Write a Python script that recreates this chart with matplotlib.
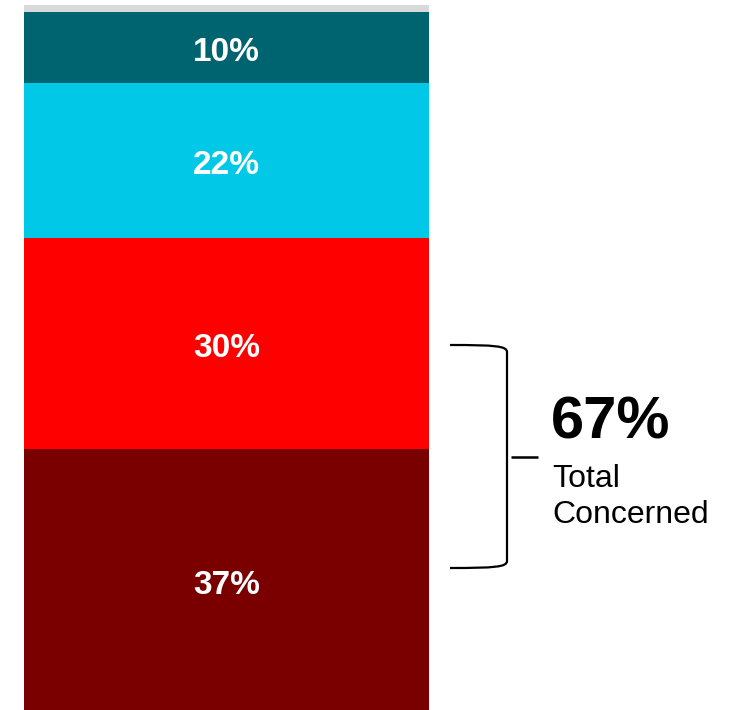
import matplotlib
matplotlib.use("Agg")
import matplotlib.pyplot as plt
from matplotlib.path import Path
from matplotlib.patches import PathPatch

categories = ["Very concerned", "Somewhat concerned", "Not very concerned", "Not at all concerned", "Unsure"]
values = [37, 30, 22, 10, 1]
colors = ["#7a0000", "#ff0000", "#00c8e6", "#006470", "#d9d9d9"]
labels = ["37%", "30%", "22%", "10%", ""]
total_value = "67%"
total_label = "Total\nConcerned"

W, H = 737, 710
fig = plt.figure(figsize=(W / 100, H / 100), dpi=100)
fig.patch.set_facecolor("white")

ax = fig.add_axes([24 / W, 0, 405 / W, 705 / H])
bottom = 0
for v, c, lab in zip(values, colors, labels):
    ax.bar(0, v, bottom=bottom, width=1.0, color=c, linewidth=0)
    if lab:
        ax.annotate(lab, xy=(0, bottom + v / 2), xytext=(0, -4), textcoords="offset points",
                    ha="center", va="center", color="white",
                    fontsize=24, fontweight="bold", family=["Liberation Sans", "DejaVu Sans"])
    bottom += v
ax.set_xlim(-0.5, 0.5)
ax.set_ylim(0, sum(values))
ax.axis("off")

# overlay axes in pixel coordinates for bracket & annotation
ov = fig.add_axes([0, 0, 1, 1])
ov.set_xlim(0, W)
ov.set_ylim(H, 0)
ov.axis("off")

verts = [(450, 345), (495, 345), (507, 346), (507, 352),
         (507, 561), (507, 567), (495, 568), (450, 568)]
codes = [Path.MOVETO, Path.CURVE4, Path.CURVE4, Path.CURVE4,
         Path.LINETO, Path.CURVE4, Path.CURVE4, Path.CURVE4]
ov.add_patch(PathPatch(Path(verts, codes), fill=False, lw=1.6, edgecolor="black"))
ov.plot([511, 538], [457, 457], color="black", lw=1.8, solid_capstyle="butt")

ov.text(551, 423, total_value, ha="left", va="center", fontsize=43, fontweight="bold",
        family=["Liberation Sans", "DejaVu Sans"], color="black")
ov.text(552, 497, total_label, ha="left", va="center", fontsize=23, linespacing=1.3,
        family=["Liberation Sans", "DejaVu Sans"], color="black")

fig.savefig("out.png", dpi=100, facecolor="white")
